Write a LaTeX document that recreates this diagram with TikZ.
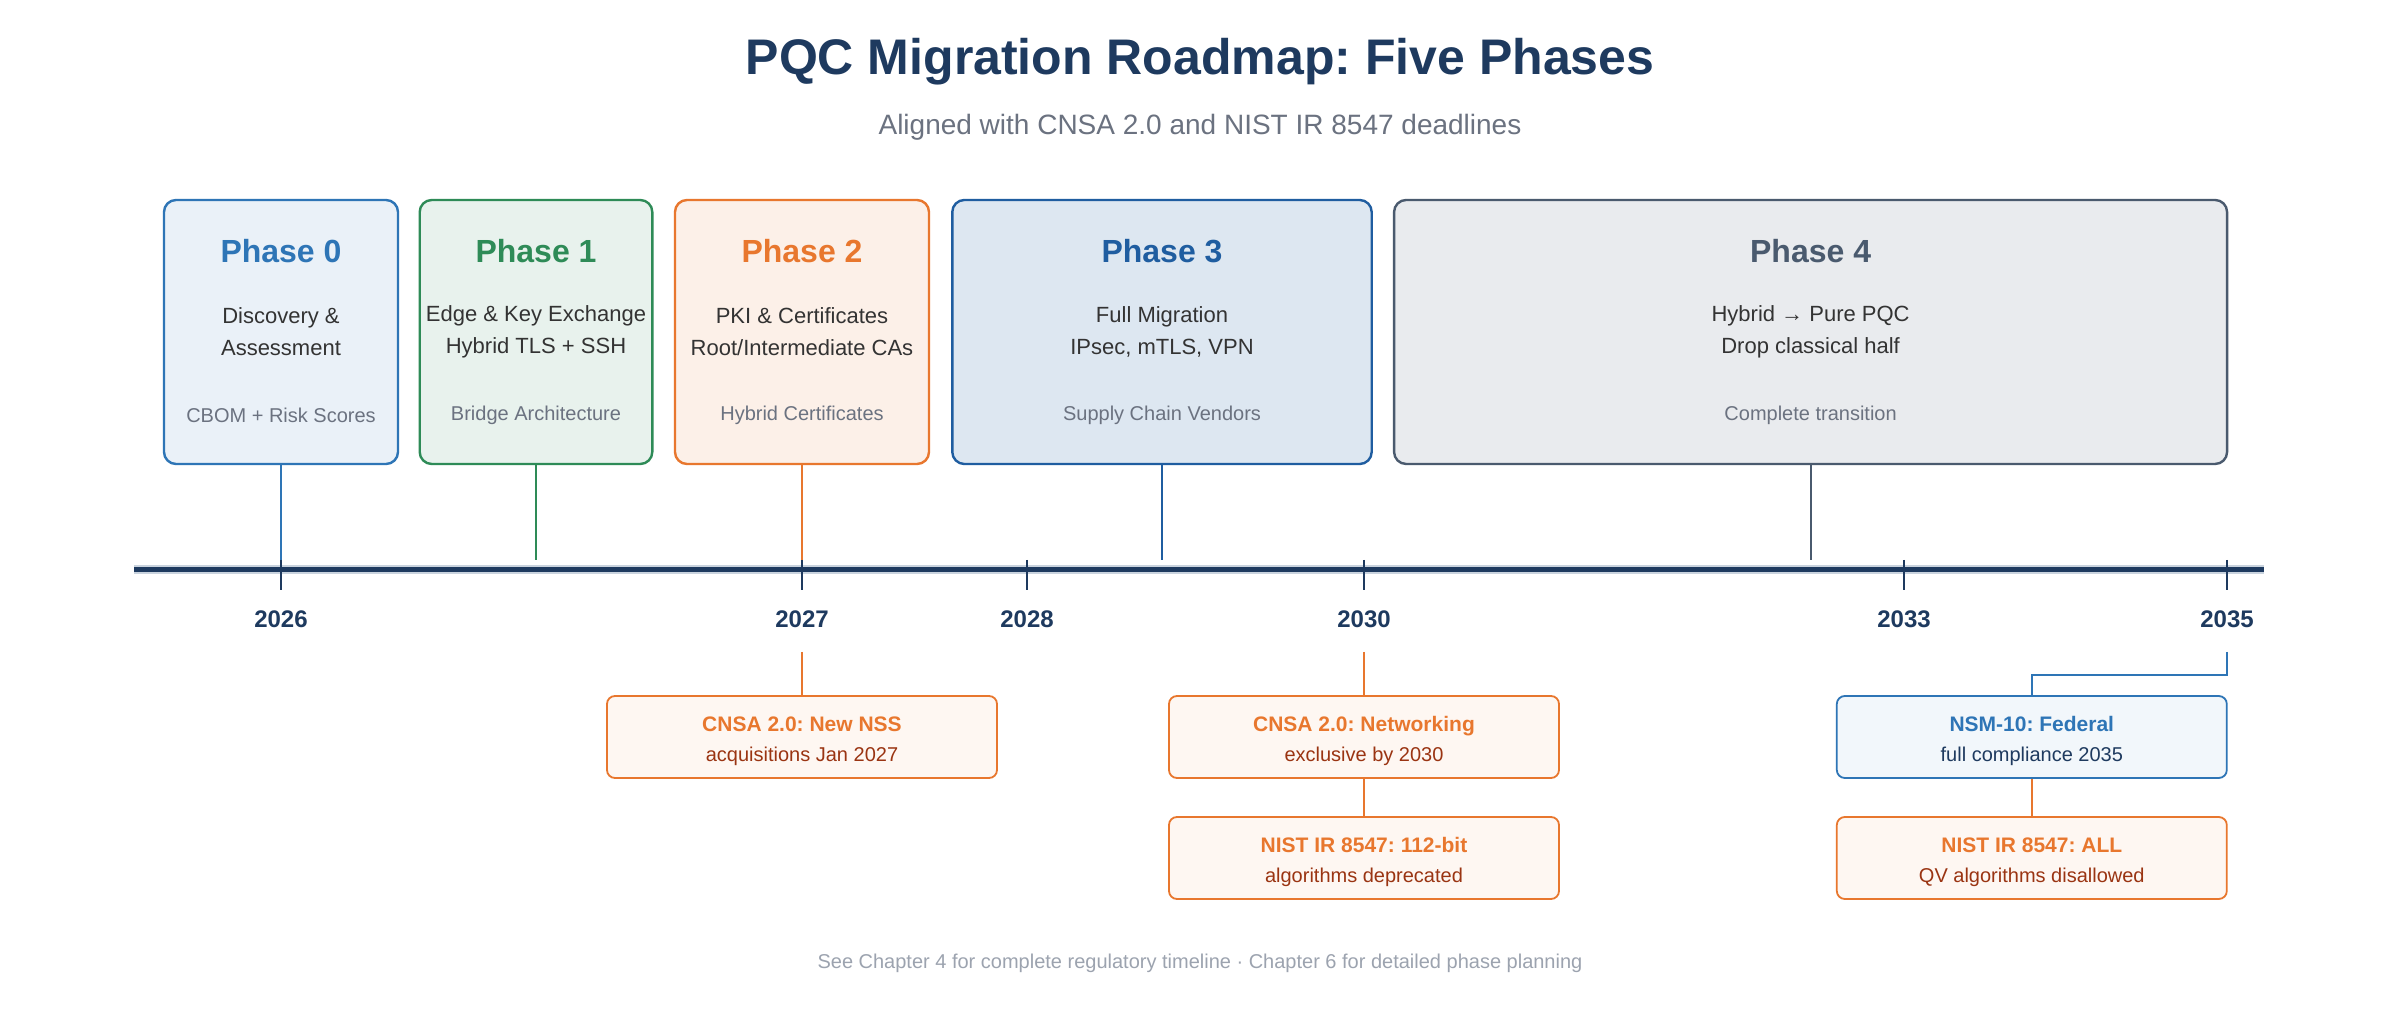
\documentclass[tikz,border=0pt]{standalone}
\usepackage{fontspec}
\setmainfont{Liberation Sans}
\frenchspacing
\definecolor{navy}{HTML}{1E3A5F}
\definecolor{greytext}{HTML}{6B7280}
\definecolor{foottext}{HTML}{9CA3AF}
\definecolor{bodytext}{HTML}{333333}
\definecolor{pzero}{HTML}{2E75B6}
\definecolor{pone}{HTML}{2E8B57}
\definecolor{ptwo}{HTML}{E8772E}
\definecolor{pthree}{HTML}{1F5DA0}
\definecolor{pfour}{HTML}{4A5A6E}
\definecolor{deadtext}{HTML}{9A3412}
\definecolor{lineshade}{HTML}{C9D3DE}
\newcommand{\deadhead}[2]{\rule{0pt}{12pt}{\fontsize{10.5}{15}\selectfont\bfseries\color{#1}#2}}

\begin{document}
\begin{tikzpicture}[x=1pt,y=-1pt,
  phasebox/.style={draw=#1, line width=1.2pt, rounded corners=6pt, minimum height=132pt, inner sep=0pt},
  phasetitle/.style={font=\fontsize{16}{19}\selectfont\bfseries, text=#1},
  body/.style={font=\fontsize{11}{16}\selectfont, text=bodytext, align=center},
  note/.style={font=\fontsize{10}{12}\selectfont, text=greytext},
  deadline/.style={draw=#1, fill=#1!6, line width=0.9pt, rounded corners=4pt, minimum width=195pt, minimum height=41pt, inner sep=0pt, align=center, font=\fontsize{10}{15}\selectfont},
  year/.style={font=\fontsize{12}{14}\selectfont\bfseries, text=navy},
  tick/.style={navy, line width=1.2pt},
  link/.style={#1, line width=0.9pt}]
\fill[white] (0,0) rectangle (1200,510);
\useasboundingbox (0,0) rectangle (1200,510);

\node[font=\fontsize{25}{29}\selectfont\bfseries, text=navy] (title) at (600,31) {PQC Migration Roadmap: Five Phases};
\node[font=\fontsize{14}{16}\selectfont, text=greytext] (subtitle) at (600,63.5) {Aligned with CNSA 2.0 and NIST IR 8547 deadlines};

\coordinate (tlstart) at (67,284.7);
\coordinate (tlend) at (1132,284.7);
\draw[lineshade, line width=4.6pt] (tlstart) -- (tlend);
\draw[navy, line width=2.6pt] (tlstart) -- (tlend);

\foreach \n/\x/\w/\c/\f/\la/\lb/\nt in {
  0/140.5/117/pzero/10/{Discovery \&}/{Assessment}/{CBOM + Risk Scores},
  1/268/116.3/pone/11/{Edge \& Key Exchange}/{Hybrid TLS + SSH}/{Bridge Architecture},
  2/401/127/ptwo/11/{PKI \& Certificates}/{Root/Intermediate CAs}/{Hybrid Certificates},
  3/581/209.7/pthree/15/{Full Migration}/{IPsec, mTLS, VPN}/{Supply Chain Vendors},
  4/905.3/416.5/pfour/12/{Hybrid → Pure PQC}/{Drop classical half}/{Complete transition}} {
  \node[phasebox=\c, fill=\c!\f, minimum width=\w] (p\n) at (\x,166) {};
  \node[phasetitle=\c] (p\n-title) at (\x,125.5) {Phase \n};
  \node[body] (p\n-body) at (\x,166) {\la\\\lb};
  \node[note] (p\n-note) at (\x,207.8) {\nt};
  \coordinate (m\n) at (\x,280);
  \draw[link=\c] (p\n) -- (m\n);
}

\foreach \yr/\x in {2026/140.5, 2027/401, 2028/513.5, 2030/682, 2033/952, 2035/1113.5} {
  \draw[tick] (\x,280) -- (\x,295);
  \node[year] (y\yr) at (\x,309.5) {\yr};
  \coordinate (d\yr) at (\x,326);
}

\node[deadline=ptwo, text=deadtext] (cnsanss) at (401,368.5) {\deadhead{ptwo}{CNSA 2.0: New NSS}\\acquisitions Jan 2027};
\node[deadline=ptwo, text=deadtext] (cnsanet) at (682,368.5) {\deadhead{ptwo}{CNSA 2.0: Networking}\\exclusive by 2030};
\node[deadline=ptwo, text=deadtext] (nistbit) at (682,429) {\deadhead{ptwo}{NIST IR 8547: 112-bit}\\algorithms deprecated};
\node[deadline=pzero, text=navy] (nsm) at (1015.9,368.5) {\deadhead{pzero}{NSM-10: Federal}\\full compliance 2035};
\node[deadline=ptwo, text=deadtext] (nistall) at (1015.9,429) {\deadhead{ptwo}{NIST IR 8547: ALL}\\QV algorithms disallowed};

\draw[link=ptwo] (d2027) -- (cnsanss);
\draw[link=ptwo] (d2030) -- (cnsanet);
\draw[link=ptwo] (cnsanet) -- (nistbit);
\draw[link=pzero] (d2035) -- ++(0,11.5) -| (nsm);
\draw[link=ptwo] (nsm) -- (nistall);

\node[font=\fontsize{10}{12}\selectfont, text=foottext] (footer) at (600,481.5) {See Chapter 4 for complete regulatory timeline · Chapter 6 for detailed phase planning};
\end{tikzpicture}
\end{document}
